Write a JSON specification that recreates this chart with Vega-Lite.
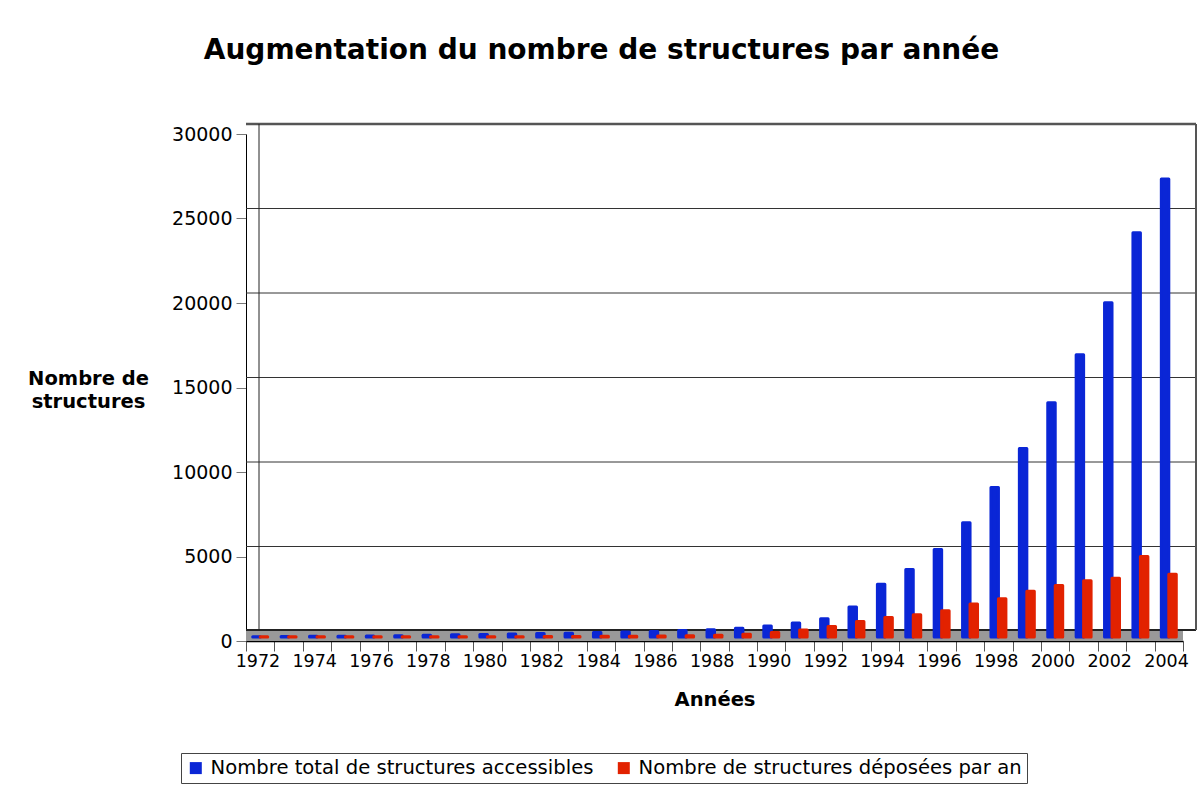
{
  "$schema": "https://vega.github.io/schema/vega-lite/v6.json",
  "width": 937,
  "height": 507,
  "autosize": "none",
  "padding": {"left": 246, "top": 134, "right": 17, "bottom": 144},
  "background": "white",
  "config": {
    "view": {"stroke": null},
    "font": "DejaVu Sans",
    "axis": {"labelFont": "DejaVu Sans", "labelFontSize": 19, "labelColor": "black", "titleFont": "DejaVu Sans", "titleFontSize": 19.5, "titleFontWeight": "bold", "titleColor": "black"},
    "legend": {"labelFont": "DejaVu Sans", "labelFontSize": 19.6, "labelColor": "black", "labelLimit": 0}
  },
  "title": {"text": "Augmentation du nombre de structures par année", "font": "DejaVu Sans", "fontSize": 28, "fontWeight": "bold", "color": "black", "anchor": "middle", "dx": -113, "baseline": "alphabetic", "offset": 36},
  "datasets": {
    "main": [
      {"year": "1972", "serie": "Nombre total de structures accessibles", "n": 20},
      {"year": "1973", "serie": "Nombre total de structures accessibles", "n": 30},
      {"year": "1974", "serie": "Nombre total de structures accessibles", "n": 40},
      {"year": "1975", "serie": "Nombre total de structures accessibles", "n": 50},
      {"year": "1976", "serie": "Nombre total de structures accessibles", "n": 60},
      {"year": "1977", "serie": "Nombre total de structures accessibles", "n": 80},
      {"year": "1978", "serie": "Nombre total de structures accessibles", "n": 100},
      {"year": "1979", "serie": "Nombre total de structures accessibles", "n": 130},
      {"year": "1980", "serie": "Nombre total de structures accessibles", "n": 150},
      {"year": "1981", "serie": "Nombre total de structures accessibles", "n": 180},
      {"year": "1982", "serie": "Nombre total de structures accessibles", "n": 200},
      {"year": "1983", "serie": "Nombre total de structures accessibles", "n": 220},
      {"year": "1984", "serie": "Nombre total de structures accessibles", "n": 260},
      {"year": "1985", "serie": "Nombre total de structures accessibles", "n": 300},
      {"year": "1986", "serie": "Nombre total de structures accessibles", "n": 330},
      {"year": "1987", "serie": "Nombre total de structures accessibles", "n": 380},
      {"year": "1988", "serie": "Nombre total de structures accessibles", "n": 430},
      {"year": "1989", "serie": "Nombre total de structures accessibles", "n": 520},
      {"year": "1990", "serie": "Nombre total de structures accessibles", "n": 650},
      {"year": "1991", "serie": "Nombre total de structures accessibles", "n": 830},
      {"year": "1992", "serie": "Nombre total de structures accessibles", "n": 1080},
      {"year": "1993", "serie": "Nombre total de structures accessibles", "n": 1780},
      {"year": "1994", "serie": "Nombre total de structures accessibles", "n": 3120},
      {"year": "1995", "serie": "Nombre total de structures accessibles", "n": 4000},
      {"year": "1996", "serie": "Nombre total de structures accessibles", "n": 5180},
      {"year": "1997", "serie": "Nombre total de structures accessibles", "n": 6760},
      {"year": "1998", "serie": "Nombre total de structures accessibles", "n": 8850},
      {"year": "1999", "serie": "Nombre total de structures accessibles", "n": 11160},
      {"year": "2000", "serie": "Nombre total de structures accessibles", "n": 13860},
      {"year": "2001", "serie": "Nombre total de structures accessibles", "n": 16700},
      {"year": "2002", "serie": "Nombre total de structures accessibles", "n": 19780},
      {"year": "2003", "serie": "Nombre total de structures accessibles", "n": 23920},
      {"year": "2004", "serie": "Nombre total de structures accessibles", "n": 27100},
      {"year": "1972", "serie": "Nombre de structures déposées par an", "n": 10},
      {"year": "1973", "serie": "Nombre de structures déposées par an", "n": 10},
      {"year": "1974", "serie": "Nombre de structures déposées par an", "n": 10},
      {"year": "1975", "serie": "Nombre de structures déposées par an", "n": 10},
      {"year": "1976", "serie": "Nombre de structures déposées par an", "n": 15},
      {"year": "1977", "serie": "Nombre de structures déposées par an", "n": 15},
      {"year": "1978", "serie": "Nombre de structures déposées par an", "n": 15},
      {"year": "1979", "serie": "Nombre de structures déposées par an", "n": 20},
      {"year": "1980", "serie": "Nombre de structures déposées par an", "n": 20},
      {"year": "1981", "serie": "Nombre de structures déposées par an", "n": 20},
      {"year": "1982", "serie": "Nombre de structures déposées par an", "n": 25},
      {"year": "1983", "serie": "Nombre de structures déposées par an", "n": 30},
      {"year": "1984", "serie": "Nombre de structures déposées par an", "n": 40},
      {"year": "1985", "serie": "Nombre de structures déposées par an", "n": 50},
      {"year": "1986", "serie": "Nombre de structures déposées par an", "n": 60},
      {"year": "1987", "serie": "Nombre de structures déposées par an", "n": 80},
      {"year": "1988", "serie": "Nombre de structures déposées par an", "n": 110},
      {"year": "1989", "serie": "Nombre de structures déposées par an", "n": 160},
      {"year": "1990", "serie": "Nombre de structures déposées par an", "n": 260},
      {"year": "1991", "serie": "Nombre de structures déposées par an", "n": 420},
      {"year": "1992", "serie": "Nombre de structures déposées par an", "n": 620},
      {"year": "1993", "serie": "Nombre de structures déposées par an", "n": 920},
      {"year": "1994", "serie": "Nombre de structures déposées par an", "n": 1150},
      {"year": "1995", "serie": "Nombre de structures déposées par an", "n": 1320},
      {"year": "1996", "serie": "Nombre de structures déposées par an", "n": 1560},
      {"year": "1997", "serie": "Nombre de structures déposées par an", "n": 1960},
      {"year": "1998", "serie": "Nombre de structures déposées par an", "n": 2260},
      {"year": "1999", "serie": "Nombre de structures déposées par an", "n": 2700},
      {"year": "2000", "serie": "Nombre de structures déposées par an", "n": 3050},
      {"year": "2001", "serie": "Nombre de structures déposées par an", "n": 3330},
      {"year": "2002", "serie": "Nombre de structures déposées par an", "n": 3480},
      {"year": "2003", "serie": "Nombre de structures déposées par an", "n": 4760},
      {"year": "2004", "serie": "Nombre de structures déposées par an", "n": 3720}
    ],
    "grid": [
      {"g": 5000}, {"g": 10000}, {"g": 15000}, {"g": 20000}, {"g": 25000}
    ]
  },
  "layer": [
    {
      "data": {"values": [{"z": 0}]},
      "mark": {"type": "rule", "color": "#999999", "strokeWidth": 11, "yOffset": -5.5, "x2Offset": 13},
      "encoding": {
        "y": {
          "datum": 0, "type": "quantitative",
          "scale": {"domain": [0, 30000], "nice": false, "zero": true},
          "title": ["Nombre de", "structures"],
          "axis": {"values": [0, 5000, 10000, 15000, 20000, 25000, 30000], "grid": false, "domain": true, "domainColor": "black", "domainWidth": 1, "ticks": true, "tickSize": 10, "tickColor": "#777777", "labelPadding": 4, "titleAngle": 0, "titleAlign": "center", "titleBaseline": "middle", "titleX": -158, "titleY": 244, "titleLineHeight": 23, "format": "d"}
        }
      }
    },
    {
      "data": {"name": "grid"},
      "mark": {"type": "rule", "color": "#333333", "strokeWidth": 1, "yOffset": -10, "xOffset": 13, "x2Offset": 13},
      "encoding": {"y": {"field": "g", "type": "quantitative", "title": ["Nombre de", "structures"]}}
    },
    {
      "data": {"values": [{"z": 0}]},
      "mark": {"type": "rule", "color": "#555555", "strokeWidth": 2.5, "yOffset": -10, "xOffset": 13, "x2Offset": 13},
      "encoding": {"y": {"datum": 30000, "type": "quantitative", "title": ["Nombre de", "structures"]}}
    },
    {
      "data": {"values": [{"z": 0}]},
      "mark": {"type": "rule", "color": "#222222", "strokeWidth": 2, "yOffset": -11, "xOffset": 13, "x2Offset": 13},
      "encoding": {"y": {"datum": 0, "type": "quantitative", "title": ["Nombre de", "structures"]}}
    },
    {
      "data": {"values": [{"z": 0}]},
      "mark": {"type": "rule", "color": "#222222", "strokeWidth": 1, "xOffset": 13, "yOffset": -11, "y2Offset": -10},
      "encoding": {
        "x": {"datum": "1972", "type": "ordinal", "bandPosition": 0, "title": "Années"},
        "y": {"datum": 0, "type": "quantitative", "title": ["Nombre de", "structures"]},
        "y2": {"datum": 30000}
      }
    },
    {
      "data": {"values": [{"z": 0}]},
      "mark": {"type": "rule", "color": "#555555", "strokeWidth": 2, "xOffset": 13, "yOffset": -11, "y2Offset": -10},
      "encoding": {
        "x": {"datum": "2004", "type": "ordinal", "bandPosition": 1, "title": "Années"},
        "y": {"datum": 0, "type": "quantitative", "title": ["Nombre de", "structures"]},
        "y2": {"datum": 30000}
      }
    },
    {
      "data": {"name": "main"},
      "mark": {"type": "bar", "xOffset": 8, "yOffset": -4, "strokeWidth": 3, "strokeJoin": "round"},
      "encoding": {
        "x": {
          "field": "year", "type": "ordinal", "title": "Années",
          "scale": {"paddingInner": 0, "paddingOuter": 0},
          "axis": {"labelAngle": 0, "labelFontSize": 17.5, "labelExpr": "toNumber(datum.value) % 2 == 0 ? datum.label : ''", "labelOverlap": false, "tickBand": "extent", "labelOffset": 19.5, "tickSize": 10, "tickColor": "#555555", "domainColor": "black", "domainWidth": 1.5, "labelPadding": 10, "titlePadding": 21, "grid": false}
        },
        "xOffset": {"field": "serie", "type": "nominal", "sort": ["Nombre total de structures accessibles", "Nombre de structures déposées par an"], "scale": {"paddingInner": 0, "paddingOuter": 0.9}},
        "y": {"field": "n", "type": "quantitative", "title": ["Nombre de", "structures"]},
        "stroke": {
          "field": "serie", "type": "nominal",
          "scale": {"domain": ["Nombre total de structures accessibles", "Nombre de structures déposées par an"], "range": ["#0a26d6", "#e22200"]},
          "legend": null
        },
        "color": {
          "field": "serie", "type": "nominal",
          "scale": {"domain": ["Nombre total de structures accessibles", "Nombre de structures déposées par an"], "range": ["#0a26d6", "#e22200"]},
          "legend": {"orient": "none", "legendX": -65, "legendY": 619, "direction": "horizontal", "title": null, "symbolType": "square", "symbolSize": 144, "symbolStrokeWidth": 0, "strokeColor": "#444444", "padding": 5, "columnPadding": 20, "labelOffset": 5, "fillColor": "white"}
        }
      }
    }
  ]
}
